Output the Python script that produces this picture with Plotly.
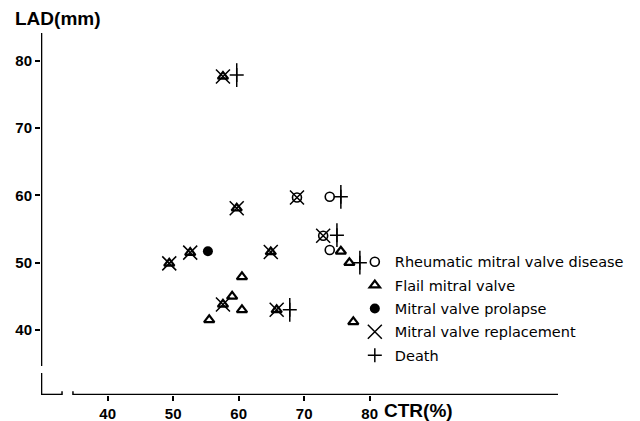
import plotly.graph_objects as go

# CTR (%) vs LAD (mm)
rheum_ctr = [68.9, 73.9, 72.9, 73.9]
rheum_lad = [59.7, 59.8, 54.0, 51.9]

flail_ctr = [57.6, 59.7, 75.6, 76.9, 49.4, 52.6, 64.9, 60.5, 59.0, 57.6, 60.5, 55.5, 65.8, 77.5]
flail_lad = [77.7, 58.1, 51.7, 50.0, 49.9, 51.5, 51.6, 47.9, 45.0, 43.8, 43.0, 41.5, 43.0, 41.2]

prolapse_ctr = [55.3]
prolapse_lad = [51.7]

replace_ctr = [57.6, 59.7, 68.9, 72.9, 49.4, 52.6, 64.9, 57.6, 65.8]
replace_lad = [77.7, 58.1, 59.7, 54.0, 49.9, 51.5, 51.6, 43.8, 43.0]

death_ctr = [59.7, 75.6, 75.0, 78.5, 67.8]
death_lad = [77.9, 59.8, 54.1, 50.0, 43.0]

x_ticks = [40, 50, 60, 70, 80]
x_ticklabels = ["40", "50", "60", "70", "80"]
y_ticks = [40, 50, 60, 70, 80]
y_ticklabels = ["40", "50", "60", "70", "80"]

legend_names = ["Rheumatic mitral valve disease", "Flail mitral valve",
                "Mitral valve prolapse", "Mitral valve replacement", "Death"]

X0, X1 = 29.82, 108.75
Y0, Y1 = 30.33, 84.16

fig = go.Figure()
fig.add_trace(go.Scatter(x=rheum_ctr, y=rheum_lad, mode="markers", name=legend_names[0], legendrank=1,
                         legendgroup="g1",
                         marker=dict(symbol="circle-open", size=9, color="black", line=dict(width=1.6))))
fig.add_trace(go.Scatter(x=flail_ctr, y=flail_lad, mode="markers", name=legend_names[1], legendrank=2,
                         legendgroup="g2",
                         marker=dict(symbol="triangle-up-open", size=9, color="black", line=dict(width=2.2))))
fig.add_trace(go.Scatter(x=prolapse_ctr, y=prolapse_lad, mode="markers", name=legend_names[2], legendrank=3,
                         legendgroup="g3",
                         marker=dict(symbol="circle", size=10, color="black")))
fig.add_trace(go.Scatter(x=replace_ctr, y=replace_lad, mode="markers", name=legend_names[3], legendrank=4,
                         legendgroup="g4",
                         marker=dict(symbol="x-thin-open", size=14, color="black", line=dict(width=1.5, color="black"))))
fig.add_trace(go.Scatter(x=death_ctr, y=death_lad, mode="markers", name=legend_names[4], legendrank=5,
                         legendgroup="g5",
                         marker=dict(symbol="cross-thin-open", size=10, color="black", line=dict(width=1.5, color="black"))))
fig.add_trace(go.Scatter(x=death_ctr, y=death_lad, mode="markers", showlegend=False, legendgroup="g5",
                         marker=dict(symbol="line-ns-open", size=17, color="black", line=dict(width=1.5, color="black"))))

axis_font = dict(family="Liberation Sans, Arial", size=15, color="black", weight="bold")
title_font = dict(family="Liberation Sans, Arial", size=19, color="black", weight="bold")

fig.update_xaxes(range=[X0, X1], showgrid=False, zeroline=False, showline=False, automargin=False,
                 tickvals=x_ticks, ticktext=x_ticklabels, ticks="outside", ticklen=5, tickwidth=2,
                 tickcolor="black", tickfont=axis_font)
fig.update_yaxes(range=[Y0, Y1], showgrid=False, zeroline=False, showline=False, automargin=False,
                 tickvals=y_ticks, ticktext=y_ticklabels, ticks="outside", ticklen=5, tickwidth=2,
                 tickcolor="black", tickfont=axis_font)

lw = 2.6
shapes = [
    dict(type="line", xref="x", yref="y", x0=X0, x1=X0, y0=34.65, y1=Y1, line=dict(color="black", width=lw)),
    dict(type="line", xref="x", yref="y", x0=X0, x1=X0, y0=Y0, y1=33.6, line=dict(color="black", width=lw)),
    dict(type="line", xref="x", yref="y", x0=X0, x1=33.03, y0=Y0, y1=Y0, line=dict(color="black", width=lw)),
    dict(type="line", xref="x", yref="y", x0=34.7, x1=X1, y0=Y0, y1=Y0, line=dict(color="black", width=lw)),
    dict(type="line", xref="x", yref="y", x0=33.03, x1=33.03, y0=29.75, y1=30.9, line=dict(color="black", width=1.5)),
    dict(type="line", xref="x", yref="y", x0=34.7, x1=34.7, y0=29.75, y1=30.9, line=dict(color="black", width=1.5)),
]

fig.update_layout(
    width=640, height=421,
    margin=dict(l=33, r=90, t=25, b=34),
    paper_bgcolor="white", plot_bgcolor="white",
    shapes=shapes,
    showlegend=True,
    legend=dict(x=0.607, y=0.412, xanchor="left", yanchor="top",
                bgcolor="rgba(0,0,0,0)",
                font=dict(family="DejaVu Sans", size=14.5, color="black"),
                itemsizing="trace", itemwidth=30, tracegroupgap=1.5),
    annotations=[
        dict(text="LAD(mm)", xref="paper", yref="paper", x=-0.054, y=1.041, xanchor="left", yanchor="middle",
             showarrow=False, font=title_font),
        dict(text="CTR(%)", xref="paper", yref="paper", x=0.66, y=-0.044, xanchor="left", yanchor="middle",
             showarrow=False, font=title_font),
    ],
)

fig.write_html("out.html")
